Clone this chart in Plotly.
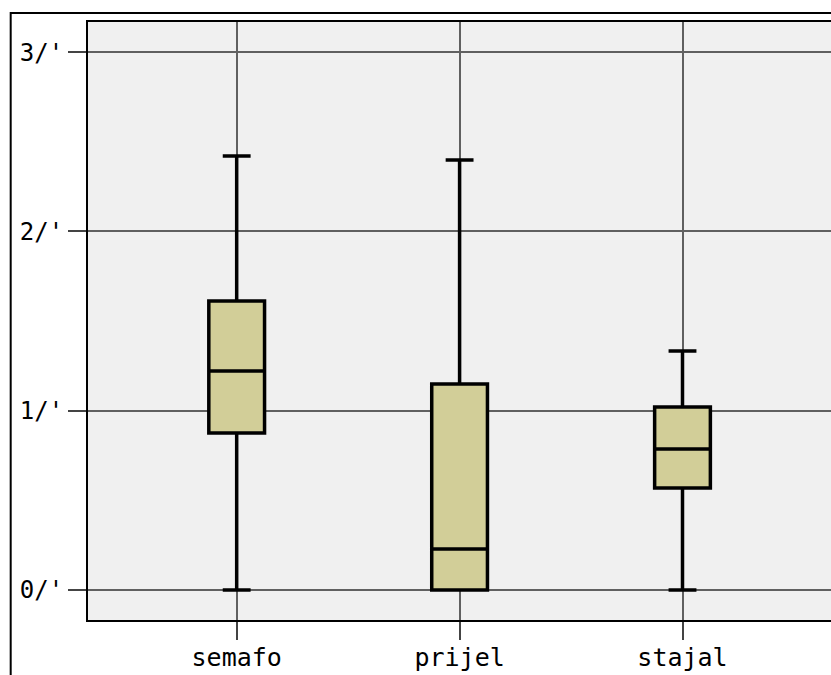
import plotly.graph_objects as go

categories = ["semafo", "prijel", "stajal"]
lower_fence = [0.0, 0.0, 0.0]
q1 = [0.876, 0.0, 0.569]
median = [1.221, 0.229, 0.786]
q3 = [1.612, 1.149, 1.021]
upper_fence = [2.42, 2.398, 1.333]

y_ticks = [0, 1, 2, 3]
y_tick_labels = ["0/'", "1/'", "2/'", "3/'"]

FONT = "DejaVu Sans Mono"

fig = go.Figure()
fig.add_trace(go.Box(
    x=categories,
    q1=q1, median=median, q3=q3,
    lowerfence=lower_fence, upperfence=upper_fence,
    fillcolor="#D2CE98",
    line=dict(color="black", width=3.5),
    width=0.25,
    whiskerwidth=0.5,
    boxpoints=False,
    hoverinfo="skip",
))

# outer frame of the figure (its right/bottom edges run off the page)
fig.add_shape(type="rect", xref="paper", yref="paper",
              x0=-0.1024, x1=1.2, y0=-0.3, y1=1.015,
              line=dict(color="black", width=2), layer="above")

fig.update_layout(
    width=845, height=675,
    margin=dict(l=88, r=0, t=22, b=55),
    paper_bgcolor="white",
    plot_bgcolor="#F0F0F0",
    showlegend=False,
    font=dict(family=FONT, size=24, color="black"),
    xaxis=dict(
        range=[-0.667, 2.72],
        showgrid=True, gridcolor="#606060", gridwidth=1.5,
        ticks="outside", ticklen=18, tickcolor="#444444", tickwidth=1.5,
        showline=True, linecolor="black", linewidth=2, mirror=True,
        tickfont=dict(family=FONT, size=25),
        ticklabelstandoff=-4,
        zeroline=False,
    ),
    yaxis=dict(
        range=[-0.167, 3.168],
        tickvals=y_ticks, ticktext=y_tick_labels,
        showgrid=True, gridcolor="#606060", gridwidth=1.5,
        ticks="outside", ticklen=18, tickcolor="#444444", tickwidth=1.5,
        showline=True, linecolor="black", linewidth=2, mirror=True,
        tickfont=dict(family=FONT, size=24),
        ticklabelstandoff=0,
        zeroline=False,
    ),
)

fig.write_html("out.html", config={"displayModeBar": False},
               post_script="document.body.style.margin='0';document.body.style.overflow='hidden';")
